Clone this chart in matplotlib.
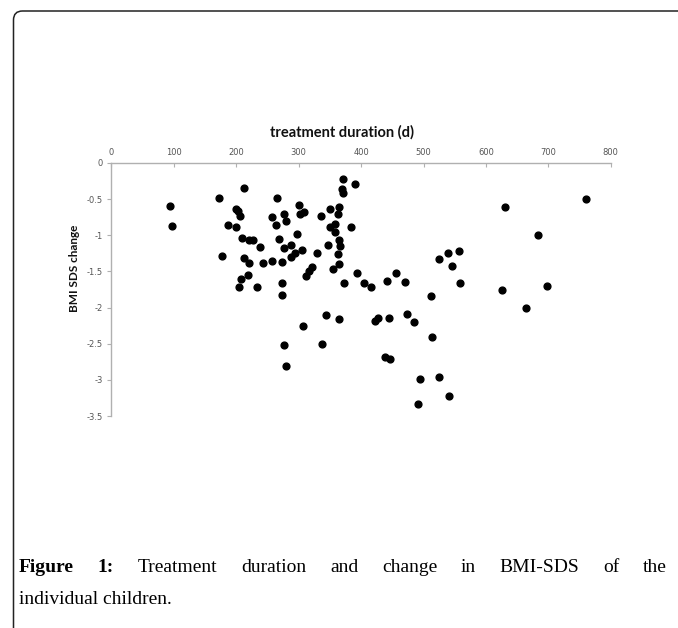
import numpy as np
import matplotlib
matplotlib.use("Agg")
import matplotlib.pyplot as plt
from matplotlib.patches import FancyBboxPatch

# --- data ---
duration_days = [
    94, 97, 172, 177, 186, 199, 202, 206, 200, 212, 209, 213, 220, 226, 220,
    204, 208, 219, 238, 243, 233, 258, 263, 266, 258, 268, 276, 280, 276, 287,
    273, 273, 273, 297, 287, 294, 301, 302, 309, 305, 311, 317, 322, 329, 336,
    347, 350, 350, 358, 358, 355, 365, 363, 365, 366, 363, 365, 372, 371, 369,
    371, 391, 384, 393, 405, 416, 343, 365, 307, 423, 276, 338, 280, 525, 539,
    557, 546, 559, 441, 456, 471, 512, 427, 444, 473, 484, 513, 439, 446, 495,
    525, 541, 491, 761, 631, 683, 626, 698, 665,
]
bmi_sds_change = [
    -0.59, -0.87, -0.49, -1.28, -0.86, -0.64, -0.66, -0.73, -0.89, -0.34,
    -1.04, -1.32, -1.06, -1.07, -1.38, -1.72, -1.60, -1.55, -1.16, -1.38,
    -1.72, -0.75, -0.86, -0.49, -1.36, -1.05, -0.71, -0.80, -1.17, -1.13,
    -1.37, -1.66, -1.82, -0.98, -1.30, -1.25, -0.58, -0.70, -0.68, -1.21,
    -1.57, -1.50, -1.44, -1.24, -0.73, -1.13, -0.64, -0.89, -0.84, -0.95,
    -1.46, -0.61, -0.71, -1.07, -1.15, -1.26, -1.40, -1.66, -0.22, -0.36,
    -0.42, -0.29, -0.89, -1.52, -1.66, -1.72, -2.10, -2.16, -2.25, -2.18,
    -2.52, -2.50, -2.81, -1.33, -1.24, -1.22, -1.43, -1.66, -1.63, -1.52,
    -1.65, -1.84, -2.14, -2.14, -2.09, -2.20, -2.41, -2.68, -2.71, -2.99,
    -2.96, -3.22, -3.34, -0.50, -0.61, -0.99, -1.76, -1.70, -2.00,
]
x_ticks = [0, 100, 200, 300, 400, 500, 600, 700, 800]
y_ticks = [0, -0.5, -1, -1.5, -2, -2.5, -3, -3.5]
y_tick_labels = ["0", "-0.5", "-1", "-1.5", "-2", "-2.5", "-3", "-3.5"]

W, H = 678, 628
fig = plt.figure(figsize=(W / 100, H / 100), dpi=100)

# page frame (only top-left part visible)
frame = FancyBboxPatch((0.135, -1.0), 10.0, (H - 11) / 100 + 1.0,
                       boxstyle="round,pad=0,rounding_size=0.09",
                       transform=fig.dpi_scale_trans, fill=False,
                       edgecolor="#222222", linewidth=1.1, clip_on=False)
fig.patches.append(frame)

ax = fig.add_axes([111.5 / W, 1 - 416 / H, (610.7 - 111.5) / W, (416 - 163) / H])
ax.scatter(duration_days, bmi_sds_change, s=24, color="black", zorder=3)
ax.set_xlim(0, 800)
ax.set_ylim(-3.5, 0)

axis_grey = "#b0b0b0"
ax.xaxis.tick_top()
ax.set_xticks(x_ticks)
ax.set_yticks(y_ticks)
ax.set_yticklabels(y_tick_labels)
for side in ["bottom", "right"]:
    ax.spines[side].set_visible(False)
for side in ["top", "left"]:
    ax.spines[side].set_color(axis_grey)
    ax.spines[side].set_linewidth(1.0)
ax.tick_params(axis="x", direction="in", length=3, color=axis_grey,
               labelsize=6, labelcolor="#555555", pad=4)
ax.tick_params(axis="y", direction="out", length=3, color=axis_grey,
               labelsize=6, labelcolor="#555555", pad=3)

fig.text(342 / W, 1 - 132 / H, "treatment duration (d)", ha="center", va="center",
         fontsize=10.5, fontweight="bold", family="Lato", color="#111111")
fig.text(75 / W, 1 - 268 / H, "BMI SDS change", ha="center", va="center",
         rotation=90, fontsize=8.5, fontweight="bold", family="Lato", color="#111111")

# caption, first line justified
renderer = fig.canvas.get_renderer()
words = [("Figure", "bold"), ("1:", "bold"), ("Treatment", "normal"),
         ("duration", "normal"), ("and", "normal"), ("change", "normal"),
         ("in", "normal"), ("BMI-SDS", "normal"), ("of", "normal"), ("the", "normal")]
left_px, right_px = 19, 667
y1 = 1 - 567 / H
texts = []
for w, wt in words:
    t = fig.text(0, y1, w, ha="left", va="center", fontsize=14,
                 family="Liberation Serif", fontweight=wt)
    texts.append(t)
widths = [t.get_window_extent(renderer).width for t in texts]
gap = (right_px - left_px - sum(widths)) / (len(words) - 1)
x = left_px
for t, wd in zip(texts, widths):
    t.set_x(x / W)
    x += wd + gap
fig.text(left_px / W, 1 - 599 / H, "individual children.", ha="left", va="center",
         fontsize=14, family="Liberation Serif")

fig.savefig("out.png", dpi=100)
